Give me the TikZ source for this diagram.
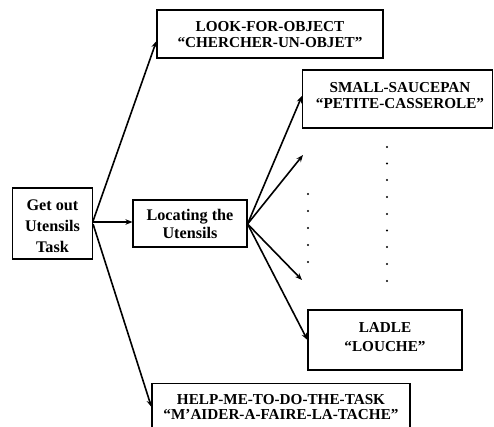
\documentclass[tikz,border=0pt]{standalone}
\usepackage{fontspec}
\setmainfont{Liberation Serif}
\usetikzlibrary{arrows.meta}
\begin{document}
\begin{tikzpicture}[x=1pt,y=-1pt,
  box/.style={draw,line width=1.1pt,rectangle,inner sep=0pt},
  caps/.style={align=center,inner sep=0pt,font=\fontsize{15.2}{16}\selectfont\bfseries},
  words/.style={align=center,inner sep=0pt,font=\fontsize{16.2}{19}\selectfont\bfseries},
  link/.style={line width=1.6pt,-{Stealth[length=7pt,width=5.5pt]}},
  dot/.style={circle,fill,inner sep=0pt,minimum size=2.2pt}]
\useasboundingbox (0,0) rectangle (494,427);
\clip (0,0) rectangle (494,427);
% boxes
\node[box,minimum width=226pt,minimum height=48pt] (look) at (270,34) {};
\node[box,minimum width=190pt,minimum height=58pt] (pan) at (397.5,99) {};
\node[box,minimum width=80pt,minimum height=71pt] (task) at (52.5,223.5) {};
\node[box,minimum width=114pt,minimum height=47pt] (loc) at (190,223.5) {};
\node[box,minimum width=154pt,minimum height=60pt] (ladle) at (385,340) {};
\node[box,minimum width=258pt,minimum height=60pt,anchor=north] (help) at (281,383) {};
% box texts
\node[caps] (look-t) at (270,35) {LOOK-FOR-OBJECT\\“CHERCHER-UN-OBJET”};
\node[caps] (pan-t) at (400,95.5) {SMALL-SAUCEPAN\\“PETITE-CASSEROLE”};
\node[words,font=\fontsize{16.2}{21}\selectfont\bfseries] (task-t) at (52.5,226) {Get out\\Utensils\\Task};
\node[words,font=\fontsize{16.2}{18}\selectfont\bfseries] (loc-t) at (190,224) {Locating the\\Utensils};
\node[caps,font=\fontsize{15.2}{19}\selectfont\bfseries] (ladle-t) at (385,337.5) {LADLE\\“LOUCHE”};
\node[caps,font=\fontsize{15.2}{15}\selectfont\bfseries] (help-t) at (281,407.5) {HELP-ME-TO-DO-THE-TASK\\“M’AIDER-A-FAIRE-LA-TACHE”};
% loose arrow ends between the utensil boxes
\coordinate (u2) at (303,155);
\coordinate (u3) at (302,280);
% connectors
\draw[link] (task.east |- 0,221) -- (look.west |- 0,41);
\draw[link] (task.east |- 0,222) -- (loc.west |- 0,222);
\draw[link] (task.east |- 0,224) -- (help.west |- 0,407);
\draw[link] (loc.east |- 0,224) -- (pan.west |- 0,96);
\draw[link] (loc.east |- 0,224) -- (u2);
\draw[link] (loc.east |- 0,224) -- (u3);
\draw[link] (loc.east |- 0,224) -- (ladle.west |- 0,340);
% dotted columns standing for further utensils
\foreach \y in {147,163.5,180,197,214,230.5,247,264,281}
  \node[dot] at (387,\y) {};
\foreach \y in {194,211,228,245,262}
  \node[dot] at (308,\y) {};
\end{tikzpicture}
\end{document}
